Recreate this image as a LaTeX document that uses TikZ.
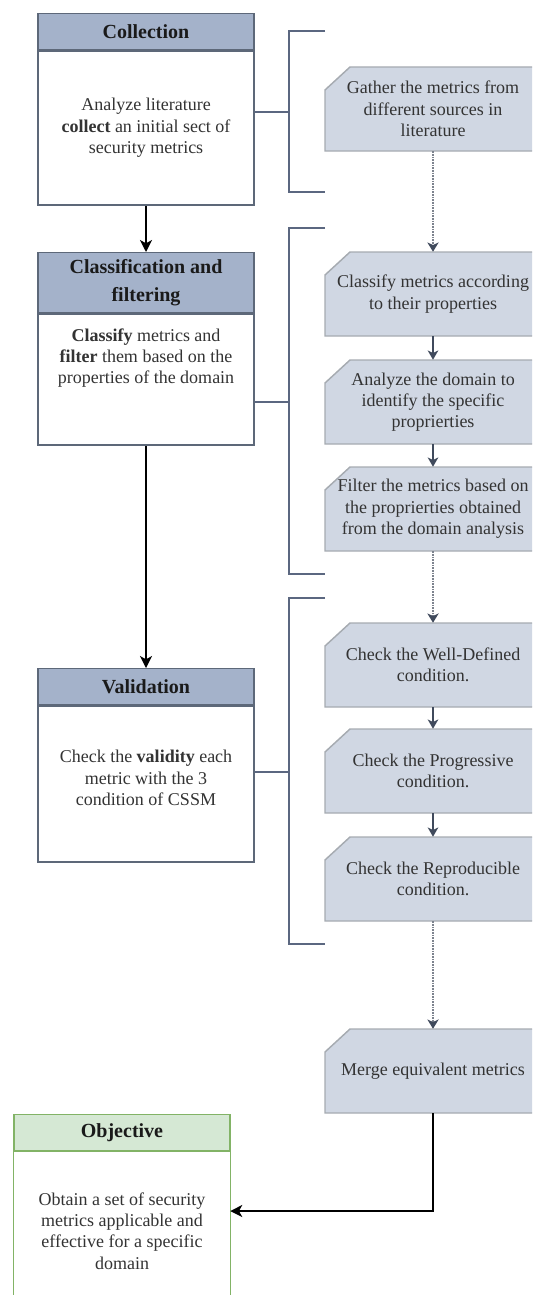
\documentclass[tikz,border=0pt]{standalone}
\usepackage{fontspec}
\setmainfont{Liberation Serif}
\usetikzlibrary{arrows.meta}
\definecolor{hdrfill}{HTML}{A4B2CA}
\definecolor{leftborder}{HTML}{5D6879}
\definecolor{stepfillc}{HTML}{D0D7E3}
\definecolor{steplinec}{HTML}{A6ABB1}
\definecolor{brkc}{HTML}{5B6780}
\definecolor{slate}{HTML}{404A5C}
\definecolor{dotc}{HTML}{7D838E}
\definecolor{greenfill}{HTML}{D5E8D4}
\definecolor{greenline}{HTML}{82B366}
\definecolor{txtc}{HTML}{333333}
\definecolor{hdrtxt}{HTML}{1A1A1A}
\tikzset{
  lbox/.style={draw=leftborder, line width=1.1pt, minimum width=162pt, inner sep=0pt},
  hdr/.style={lbox, fill=hdrfill, font=\fontsize{15}{21}\selectfont\bfseries, text=hdrtxt, align=center},
  bodybox/.style={lbox, fill=white},
  bodytext/.style={font=\fontsize{13.5}{16}\selectfont, text=txtc, align=center, inner sep=0pt},
  steptext/.style={font=\fontsize{13.5}{16}\selectfont, text=txtc, align=center, inner sep=0pt, minimum width=162pt, minimum height=63pt},
  stepline/.style={draw=steplinec, line width=1.1pt},
  brk/.style={draw=brkc, line width=1.1pt},
  blkarr/.style={draw=black, line width=1.1pt, -{Stealth[length=9pt, width=9pt, inset=2.5pt]}},
  slatearr/.style={draw=slate, line width=1.1pt, -{Stealth[length=7pt, width=8pt, inset=2pt]}},
  dotarr/.style={draw=dotc, line width=0.9pt, dash pattern=on 1.2pt off 0.8pt, -{Stealth[length=7pt, width=8.5pt, inset=2pt, color=slate, fill=slate]}},
}
\newcommand\stepnode[3]{%
  \path[fill=stepfillc] (325,#2+23) -- (350,#2) -- (532,#2) -- (532,#2+84) -- (325,#2+84) -- cycle;
  \draw[stepline] (532,#2) -- (350,#2) -- (325,#2+23) -- (325,#2+84) -- (532,#2+84);
  \node[steptext] (#1) at (433,#2+42) {#3};
}
\begin{document}
\begin{tikzpicture}[x=0.75pt,y=-0.75pt]
\useasboundingbox (0,0) rectangle (532,1295);

% ---- left column ----
\node[hdr, minimum height=27pt, anchor=north] (collH) at (146,13) {Collection};
\node[bodybox, minimum height=115.5pt, anchor=north] (collB) at (collH.south) {};
\node[bodytext] (collT) at (146,128) {Analyze literature\\\textbf{collect} an initial sect of\\security metrics};

\node[hdr, minimum height=45pt, anchor=north] (classH) at (146,252) {Classification and\\filtering};
\node[bodybox, minimum height=98.25pt, anchor=north] (classB) at (classH.south) {};
\node[bodytext] (classT) at (146,358) {\textbf{Classify} metrics and\\\textbf{filter} them based on the\\properties of the domain};

\node[hdr, minimum height=27pt, anchor=north] (valH) at (146,668) {Validation};
\node[bodybox, minimum height=117pt, anchor=north] (valB) at (valH.south) {};
\node[bodytext] (valT) at (146,778) {Check the \textbf{validity} each\\metric with the 3\\condition of CSSM};

\node[hdr, draw=greenline, fill=greenfill, minimum height=27pt, anchor=north] (objH) at (122,1114) {Objective};
\node[inner sep=0pt, minimum width=162pt, minimum height=108.75pt, anchor=north] (objB) at (objH.south) {};
\draw[draw=greenline, line width=1.1pt] (objB.south west) -- (objB.north west) -- (objB.north east) -- (objB.south east);
\node[bodytext] (objT) at (122,1231) {Obtain a set of security\\metrics applicable and\\effective for a specific\\domain};

\draw[blkarr] (collB.south) -- (classH.north);
\draw[blkarr] (classB.south) -- (valH.north);

% ---- brackets ----
\coordinate (b1) at (289,112);
\coordinate (b2) at (289,402);
\coordinate (b3) at (289,772);
\draw[brk] (325,31) -- (289,31) -- (289,192) -- (325,192);
\draw[brk] (collB.east |- b1) -- (b1);
\draw[brk] (325,228) -- (289,228) -- (289,574) -- (325,574);
\draw[brk] (classB.east |- b2) -- (b2);
\draw[brk] (325,598) -- (289,598) -- (289,944) -- (325,944);
\draw[brk] (valB.east |- b3) -- (b3);

% ---- right column ----
\stepnode{gather}{67}{Gather the metrics from\\different sources in\\literature}
\stepnode{classify}{252}{Classify metrics according\\to their properties}
\stepnode{analyze}{360}{Analyze the domain to\\identify the specific\\proprierties}
\stepnode{filter}{467}{Filter the metrics based on\\the proprierties obtained\\from the domain analysis}
\stepnode{welldef}{623}{Check the Well-Defined\\condition.}
\stepnode{progr}{729}{Check the Progressive\\condition.}
\stepnode{repro}{837}{Check the Reproducible\\condition.}
\stepnode{merge}{1029}{Merge equivalent metrics}

\draw[dotarr] (gather.south) -- (classify.north);
\draw[slatearr] (classify.south) -- (analyze.north);
\draw[slatearr] (analyze.south) -- (filter.north);
\draw[dotarr] (filter.south) -- (welldef.north);
\draw[slatearr] (welldef.south) -- (progr.north);
\draw[slatearr] (progr.south) -- (repro.north);
\draw[dotarr] (repro.south) -- (merge.north);

\coordinate (turn) at (433,1211);
\draw[blkarr] (merge.south) -- (turn) -- (objB.east |- turn);
\end{tikzpicture}
\end{document}
